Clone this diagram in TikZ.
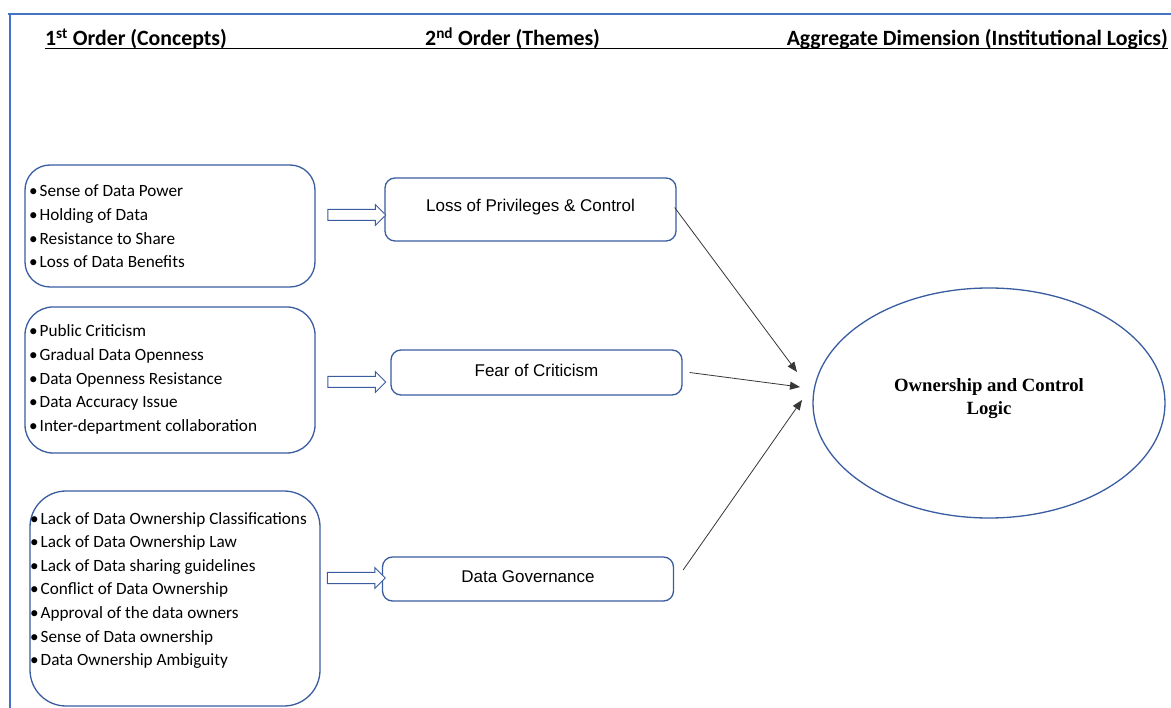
\documentclass[tikz,border=0pt]{standalone}
\usepackage{fontspec}
\setmainfont{Carlito}
\newfontfamily\arialfont{Liberation Sans}
\newfontfamily\timesfont{Liberation Serif}
\usetikzlibrary{shapes.geometric,shapes.arrows,arrows.meta,calc}
\definecolor{framecol}{RGB}{68,114,196}
\definecolor{boxcol}{RGB}{58,92,160}
\definecolor{linkcol}{RGB}{55,55,55}
\tikzset{
  frameline/.style={draw=framecol, line width=2pt},
  headtext/.style={font=\fontsize{21.8}{24}\selectfont\bfseries, inner sep=0pt},
  conceptbox/.style={draw=boxcol, line width=1.3pt, rounded corners=#1, minimum width=290pt},
  conceptlist/.style={font=\fontsize{17.2}{23.6}\selectfont, align=left, inner sep=0pt, anchor=west},
  themebox/.style={draw=boxcol, line width=1.3pt, rounded corners=10pt, minimum width=291pt,
    font=\arialfont\fontsize{17}{20}\selectfont, inner sep=0pt},
  blockarrow/.style={single arrow, draw=boxcol, line width=1pt, fill=white,
    minimum height=58pt, minimum width=20pt, inner sep=5pt, single arrow head extend=5pt},
  logicellipse/.style={ellipse, draw=boxcol, line width=1.3pt, minimum width=352pt, minimum height=230pt,
    font=\timesfont\bfseries\fontsize{18.7}{23}\selectfont, align=center, inner sep=0pt},
  link/.style={draw=linkcol, line width=0.8pt, -{Triangle[length=10pt,width=8pt]}},
}
\newcommand{\bul}{\makebox[10.5pt][l]{•}}
\begin{document}
\begin{tikzpicture}[x=1pt,y=-1pt]
\useasboundingbox (0,0) rectangle (1171,708);
\fill[white] (0,0) rectangle (1171,708);

% outer frame (top and left edges)
\draw[frameline] (8,14) -- (1171,14);
\draw[frameline] (10,14) -- (10,708);

% column headings
\node[headtext, anchor=base west] (h1) at (45,46) {1\textsuperscript{st} Order (Concepts)};
\node[headtext, anchor=base west] (h2) at (425,46) {2\textsuperscript{nd} Order (Themes)};
\node[headtext, anchor=base east] (h3) at (1168,46) {Aggregate Dimension (Institutional Logics)};
\draw[line width=1.8pt] ($(h1.base west)+(0,2.5)$) -- ($(h3.base east)+(0,2.5)$);

% first-order concept boxes
\node[conceptbox=25pt, minimum height=122pt] (c1) at (170,226) {};
\node[conceptlist] (l1) at (29,226.5) {\bul Sense of Data Power\\ \bul Holding of Data\\ \bul Resistance to Share\\ \bul Loss of Data Benefits};

\node[conceptbox=28pt, minimum height=146pt] (c2) at (170,380) {};
\node[conceptlist] (l2) at (29,379.5) {\bul Public Criticism\\ \bul Gradual Data Openness\\ \bul Data Openness Resistance\\ \bul Data Accuracy Issue\\ \bul Inter-department collaboration};

\node[conceptbox=36pt, minimum height=215pt] (c3) at (175,598.5) {};
\node[conceptlist] (l3) at (30,590.5) {\bul Lack of Data Ownership Classifications\\ \bul Lack of Data Ownership Law\\ \bul Lack of Data sharing guidelines\\ \bul Conflict of Data Ownership\\ \bul Approval of the data owners\\ \bul Sense of Data ownership\\ \bul Data Ownership Ambiguity};

% second-order theme boxes
\node[themebox, minimum height=63pt] (t1) at (530.5,209.5) {\raisebox{9pt}{Loss of Privileges \& Control}};
\node[themebox, minimum height=45pt] (t2) at (536.5,372.5) {\raisebox{5pt}{Fear of Criticism}};
\node[themebox, minimum height=44pt] (t3) at (528,579) {\raisebox{4pt}{Data Governance}};

% block arrows from concepts to themes
\node[blockarrow] (a1) at (354,215) {};
\node[blockarrow] (a2) at (354,382) {};
\node[blockarrow] (a3) at (353.5,578) {};

% aggregate dimension
\node[logicellipse] (agg) at (989,403) {\raisebox{5pt}[\height][\depth]{\begin{tabular}{@{}c@{}}Ownership and Control\\ Logic\end{tabular}}};

% links from themes towards the aggregate dimension
\coordinate (e1) at (797,372);
\coordinate (e2) at (800,387);
\coordinate (e3) at (802,400);
\draw[link] ($(t1.east)+(-2,-2)$) -- (e1);
\draw[link] ($(t2.east)+(7,0)$) -- (e2);
\draw[link] ($(t3.east)+(9,-9)$) -- (e3);
\end{tikzpicture}
\end{document}
